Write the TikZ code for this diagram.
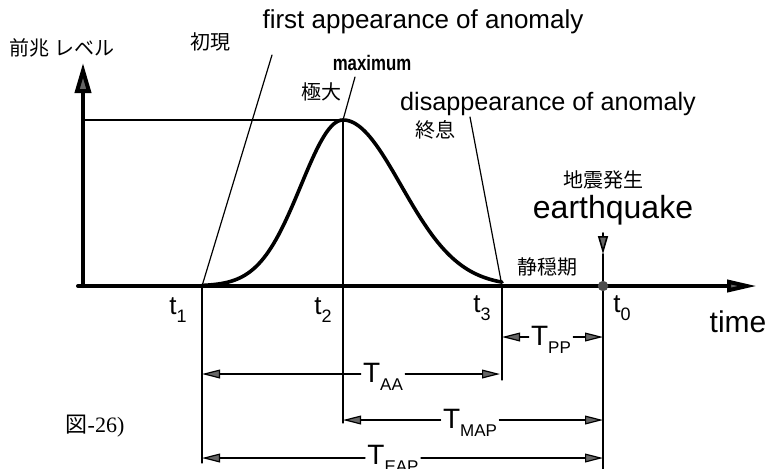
\documentclass[tikz,border=0pt]{standalone}
\usepackage{fontspec}
\setmainfont{Liberation Sans}
\newfontfamily\jpfont{Noto Sans CJK JP}
\newfontfamily\romfont{Liberation Serif}
\usetikzlibrary{arrows.meta}
\tikzset{
  quake/.style={x=0.5pt,y=-0.5pt,line cap=round},
  dimarr/.style={line width=0.6pt,-{Triangle[length=9pt,width=4.4pt,fill=black!60]}},
  guide/.style={line width=0.6pt},
  jp/.style={font=\jpfont\fontsize{10}{12}\selectfont},
  en/.style={font=\fontsize{13}{15}\selectfont},
  tlab/.style={font=\fontsize{13}{15}\selectfont,inner sep=1pt}
}
\newcommand{\tsub}[3]{#1\raisebox{-0.55ex}{\fontsize{#3}{#3}\selectfont #2}}

\begin{document}
\begin{tikzpicture}[quake]
    \useasboundingbox (0,0) rectangle (769,468);
    \clip (0,0) rectangle (769,468);
    % points on the time axis
    \coordinate (orig) at (83,286);
    \coordinate (ytip) at (83,63);
    \coordinate (xtip) at (757,286);
    \coordinate (t1) at (202,286);
    \coordinate (peak) at (343,120);
    \coordinate (t2) at (343,286);
    \coordinate (t3) at (502,286);
    \coordinate (t0) at (603,286);
    % axes
    \draw[line width=2pt,-{Triangle[length=15pt,width=8pt,fill=black!60]}] (orig) -- (ytip);
    \draw[line width=2pt,-{Triangle[length=15pt,width=6pt,fill=black!60]}] (78,286) -- (xtip);
    \draw[guide,line width=0.8pt] (orig |- peak) -- (peak);
    % anomaly curve
    \draw[line width=1.8pt] plot[domain=202:343,samples=60] (\x,{286-166*exp(-((\x-343)/42)^2/2)});
    \draw[line width=1.8pt] plot[domain=343:502,samples=60] (\x,{286-166*exp(-((\x-343)/58)^2/2)});
    % leaders and guides
    \coordinate (l1) at (272,55);
    \coordinate (lmax) at (355,77);
    \coordinate (l3) at (470,117);
    \draw[guide] (l1) -- (t1);
    \draw[guide] (lmax) -- (peak);
    \draw[guide] (l3) -- (t3);
    \draw[guide] (t1) -- (202,463);
    \draw[guide] (peak) -- (343,423);
    \draw[guide] (t3) -- (502,380);
    \draw[guide] (t0) -- (603,470);
    % earthquake marker
    \coordinate (eqtop) at (603,233);
    \coordinate (eqtip) at (603,254);
    \draw[line width=0.8pt,-{Triangle[length=9pt,width=5pt,fill=black!60]}] (eqtop) -- (eqtip);
    \draw[line width=0.8pt] (eqtip) -- (t0);
    \fill[black!70] (t0) circle (2.6pt);
    % labels
    \node[jp] (level) at (62,48) {前兆 レベル};
    \node[jp] (shogen) at (210,42) {初現};
    \node[en] (first) at (423,22) {first appearance of anomaly};
    \node (maxi) at (372,63) {\scalebox{0.8}[1]{\bfseries\fontsize{10.5}{12}\selectfont maximum}};
    \node[jp] (kyokudai) at (321,92) {極大};
    \node[font=\fontsize{12.6}{14}\selectfont] (disap) at (548,104) {disappearance of anomaly};
    \node[jp] (shusoku) at (435,130) {終息};
    \node[jp] (jishin) at (603,180) {地震発生};
    \node[font=\fontsize{16}{18}\selectfont] (eq) at (613,210) {earthquake};
    \node[jp] (seion) at (547,267) {静穏期};
    \node[tlab] (lt1) at (178,310) {\tsub{t}{1}{9}};
    \node[tlab] (lt2) at (323,310) {\tsub{t}{2}{9}};
    \node[tlab] (lt3) at (482,308) {\tsub{t}{3}{9}};
    \node[tlab] (lt0) at (622,308) {\tsub{t}{0}{9}};
    \node[font=\fontsize{15}{17}\selectfont] (time) at (738,322) {time};
    \node[font=\jpfont\fontsize{11}{13}\selectfont] (fig) at (95,426) {図\romfont -26)};
    % time spans
    \node[tlab,font=\fontsize{14}{16}\selectfont] (tpp) at (551,340) {\tsub{T}{PP}{8.5}};
    \node[tlab,font=\fontsize{14}{16}\selectfont] (taa) at (383,377) {\tsub{T}{AA}{8.5}};
    \node[tlab,font=\fontsize{14}{16}\selectfont] (tmap) at (470,423) {\tsub{T}{MAP}{8.5}};
    \node[tlab,font=\fontsize{14}{16}\selectfont] (teap) at (393,459) {\tsub{T}{EAP}{8.5}};
    \draw[dimarr] (tpp.west |- 0,337) -- (502,337);
    \draw[dimarr] (tpp.east |- 0,337) -- (603,337);
    \draw[dimarr] (taa.west |- 0,374) -- (202,374);
    \draw[dimarr] (taa.east |- 0,374) -- (500,374);
    \draw[dimarr] (tmap.west |- 0,420) -- (343,420);
    \draw[dimarr] (tmap.east |- 0,420) -- (603,420);
    \draw[dimarr] (teap.west |- 0,458) -- (202,458);
    \draw[dimarr] (teap.east |- 0,458) -- (603,458);
\end{tikzpicture}
\end{document}
